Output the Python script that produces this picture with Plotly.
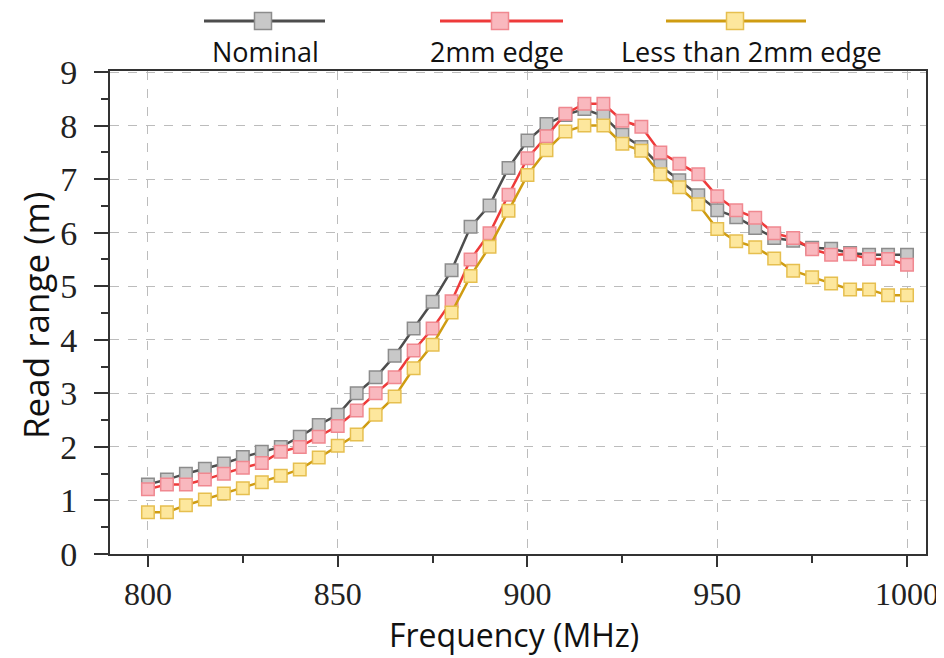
import plotly.graph_objects as go

# ---------------- data ----------------
freq = [800, 805, 810, 815, 820, 825, 830, 835, 840, 845, 850, 855, 860, 865, 870,
        875, 880, 885, 890, 895, 900, 905, 910, 915, 920, 925, 930, 935, 940, 945,
        950, 955, 960, 965, 970, 975, 980, 985, 990, 995, 1000]

nominal = [1.30, 1.39, 1.50, 1.59, 1.69, 1.81, 1.91, 2.00, 2.19, 2.41, 2.60, 3.00, 3.30, 3.70,
           4.21, 4.71, 5.30, 6.11, 6.51, 7.21, 7.72, 8.03, 8.20, 8.31, 8.18, 7.83, 7.60, 7.25,
           6.98, 6.70, 6.42, 6.29, 6.09, 5.90, 5.85, 5.72, 5.70, 5.62, 5.59, 5.59, 5.59]

edge_2mm = [1.21, 1.30, 1.30, 1.39, 1.50, 1.61, 1.70, 1.91, 2.00, 2.19, 2.39, 2.68, 3.00, 3.30,
            3.80, 4.21, 4.72, 5.50, 5.99, 6.71, 7.39, 7.80, 8.22, 8.41, 8.41, 8.09, 7.98, 7.50,
            7.29, 7.09, 6.68, 6.42, 6.28, 5.99, 5.90, 5.69, 5.59, 5.60, 5.51, 5.51, 5.40]

edge_less = [0.78, 0.78, 0.91, 1.02, 1.13, 1.23, 1.34, 1.46, 1.58, 1.80, 2.02, 2.23, 2.60, 2.94,
             3.47, 3.91, 4.51, 5.19, 5.74, 6.41, 7.08, 7.54, 7.89, 8.00, 8.00, 7.66, 7.53, 7.09,
             6.85, 6.53, 6.07, 5.84, 5.73, 5.52, 5.29, 5.17, 5.05, 4.94, 4.94, 4.83, 4.83]

series_names = ["Nominal", "2mm edge", "Less than 2mm edge"]
x_ticks = [800, 850, 900, 950, 1000]
y_ticks = [0, 1, 2, 3, 4, 5, 6, 7, 8, 9]

# ---------------- styles ----------------
styles = [
    dict(line="#4d4d4d", fill="#c8c8c8", edge="#8c8c8c"),
    dict(line="#ee3a3a", fill="#f9b8be", edge="#f08890"),
    dict(line="#cf9c12", fill="#fde79d", edge="#e6bf4f"),
]

OFF = 8  # page body margin of the html file
W, H = 944 - OFF, 658 - OFF
ML, MT = 110 - OFF, 71 - OFF
PW, PH = 816, 483
MR, MB = W - ML - PW, H - MT - PH


def px_x(p):  # page pixel -> paper x
    return (p - OFF - ML) / PW


def px_y(p):  # page pixel -> paper y
    return (MT + PH - (p - OFF)) / PH


fig = go.Figure()
for name, ys, st in zip(series_names, [nominal, edge_2mm, edge_less], styles):
    fig.add_trace(go.Scatter(
        x=freq, y=ys, name=name, mode="lines+markers",
        line=dict(color=st["line"], width=2.5),
        marker=dict(symbol="square", size=12.5, color=st["fill"],
                    line=dict(color=st["edge"], width=1.5)),
        showlegend=False,
    ))

# ---------------- custom legend (symbol above text) ----------------
legend_items = [
    (series_names[0], 204, 325, 263, 265),
    (series_names[1], 440, 563, 500, 497),
    (series_names[2], 666, 806, 735, 751),
]
shapes = []
annotations = []
for (name, lx0, lx1, mx, tx), st in zip(legend_items, styles):
    shapes.append(dict(type="line", xref="paper", yref="paper",
                       x0=px_x(lx0), x1=px_x(lx1), y0=px_y(21), y1=px_y(21),
                       line=dict(color=st["line"], width=3)))
    shapes.append(dict(type="rect", xref="paper", yref="paper",
                       x0=px_x(mx - 8.5), x1=px_x(mx + 8.5),
                       y0=px_y(29.5), y1=px_y(12.5),
                       fillcolor=st["fill"], line=dict(color=st["edge"], width=1.5)))
    annotations.append(dict(text=name, xref="paper", yref="paper",
                            x=px_x(tx), y=px_y(51), xanchor="center", yanchor="middle",
                            showarrow=False,
                            font=dict(family="Open Sans", size=27, color="#111111")))

annotations.append(dict(text="Frequency (MHz)", xref="paper", yref="paper",
                        x=px_x(514), y=px_y(658), xanchor="center", yanchor="bottom",
                        showarrow=False,
                        font=dict(family="Open Sans", size=32, color="#111111")))
annotations.append(dict(text="Read range (m)", xref="paper", yref="paper",
                        x=px_x(35), y=px_y(316), xanchor="center", yanchor="middle",
                        textangle=-90, showarrow=False,
                        font=dict(family="Open Sans", size=35, color="#111111")))

axis_common = dict(
    showline=True, linecolor="#333333", linewidth=2, mirror=True,
    ticks="outside", tickcolor="#333333", tickwidth=2,
    showgrid=True, gridcolor="#bcbcbc", gridwidth=1.3, griddash="dash",
    zeroline=False,
)

fig.update_xaxes(
    **axis_common, range=[790, 1005], tickvals=x_ticks, ticklen=11,
    tickfont=dict(family="Liberation Serif", size=32, color="#222222"),
    minor=dict(dtick=25, tick0=800, ticklen=7, tickcolor="#333333", tickwidth=2, showgrid=False),
)
fig.update_yaxes(
    **axis_common, range=[0, 9.02], tickvals=y_ticks, ticklen=14, ticklabelstandoff=10,
    tickfont=dict(family="Liberation Serif", size=34, color="#222222"),
    minor=dict(dtick=0.5, tick0=0, ticklen=7, tickcolor="#333333", tickwidth=2, showgrid=False),
)

fig.update_layout(
    width=W, height=H,
    margin=dict(l=ML, r=MR, t=MT, b=MB, autoexpand=False),
    paper_bgcolor="white", plot_bgcolor="white",
    shapes=shapes, annotations=annotations,
)

fig.write_html("out.html")
